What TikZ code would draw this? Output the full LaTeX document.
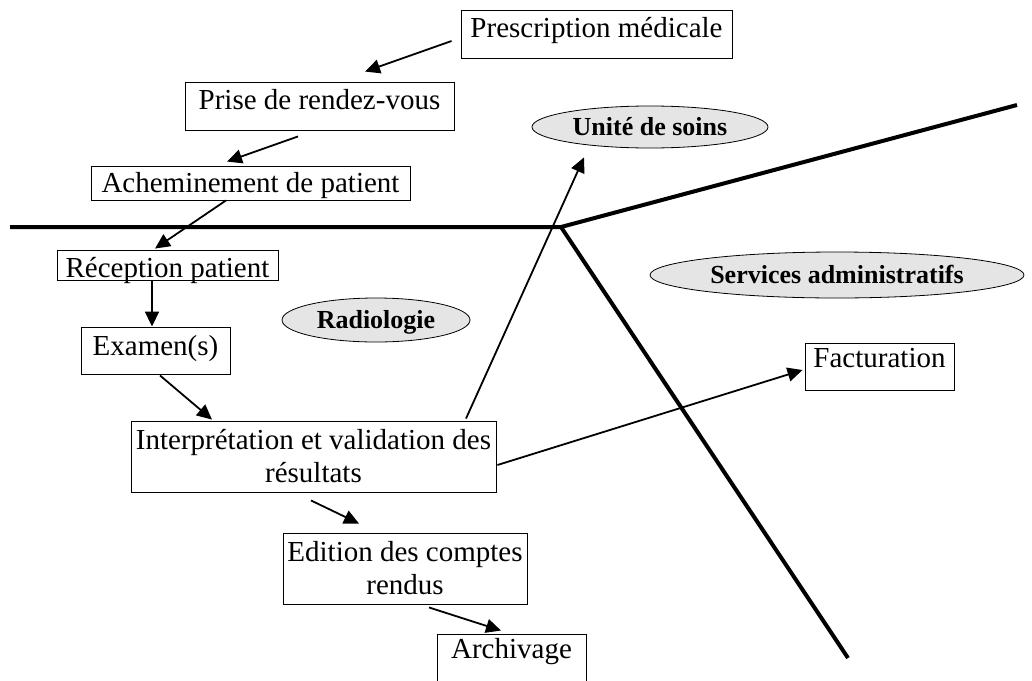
\documentclass[tikz,border=0pt]{standalone}
\usepackage{fontspec}
\setmainfont{Liberation Serif}
\usetikzlibrary{arrows.meta,shapes.geometric,calc}
\begin{document}
\begin{tikzpicture}[x=1pt,y=-1pt,
  box/.style={draw,line width=0.9pt,rectangle,inner sep=0pt,align=center,
    font=\fontsize{29}{33}\selectfont},
  zone/.style={draw,line width=0.8pt,ellipse,fill=black!10,inner sep=0pt,
    font=\fontsize{26}{30}\selectfont\bfseries,text height=17pt,text depth=1pt},
  flow/.style={line width=1.8pt,-{Triangle[length=15pt,width=14pt]}},
  border/.style={line width=4pt}]
\useasboundingbox (0,0) rectangle (1032,680);
\clip (0,0) rectangle (1032,680);

% zone boundaries
\coordinate (j) at (561,227);
\coordinate (bl) at (10,227);
\coordinate (bu) at (1017,105);
\coordinate (bd) at (848,658);
\draw[border] (bl) -- (j) -- (bu);
\draw[border] (j) -- (bd);

% zone labels
\node[zone,minimum width=188pt,minimum height=44pt] (radio) at (376,320) {Radiologie};
\node[zone,minimum width=236pt,minimum height=42pt] (unite) at (650,127) {Unité de soins};
\node[zone,minimum width=374pt,minimum height=46pt] (admin) at (837,275) {Services administratifs};

% process steps
\node[box,minimum width=271pt,text height=27pt,text depth=21pt] (presc) at (596.5,34) {Prescription médicale};
\node[box,minimum width=269pt,text height=27pt,text depth=21pt] (prise) at (319.5,106) {Prise de rendez-vous};
\node[box,minimum width=319pt,text height=26pt,text depth=8pt] (achem) at (250.5,183) {Acheminement de patient};
\node[box,minimum width=221pt,text height=27pt,text depth=3pt] (recep) at (167.5,265) {Réception patient};
\node[box,minimum width=149pt,text height=28pt,text depth=19pt] (exam) at (155.5,350.5) {Examen(s)};
\node[box,minimum width=365pt,minimum height=71pt] (interp) at (313.5,456.5) {Interprétation et validation des\\résultats};
\node[box,minimum width=244pt,minimum height=71pt] (edit) at (405,568.5) {Edition des comptes\\rendus};
\node[box,minimum width=149pt,text height=24pt,text depth=32pt] (archi) at (511.5,662) {Archivage};
\node[box,minimum width=149pt,text height=24pt,text depth=23pt] (fact) at (879.5,366.5) {Facturation};

% flow arrows
\draw[flow] ($(presc.west)+(-9,7)$) -- ($(prise.north)+(45.5,-10)$);
\draw[flow] ($(prise.south)+(-21.5,6)$) -- ($(achem.north)+(-23.5,-4)$);
\draw[flow] ($(achem.south)+(-24.5,0)$) -- ($(recep.north)+(-12.5,-1)$);
\draw[flow] ($(recep.south)+(-15.5,0)$) -- ($(exam.north)+(-3.5,0)$);
\draw[flow] ($(exam.south)+(4.5,1)$) -- ($(interp.north)+(-101.5,-1)$);
\draw[flow] ($(interp.north)+(152.5,-2)$) -- ($(unite.south)+(-66,9)$);
\draw[flow] ($(interp.east)+(1,8.5)$) -- ($(fact.west)+(-2,3.5)$);
\draw[flow] ($(interp.south)+(-2.5,8)$) -- ($(edit.north)+(-46,-9)$);
\draw[flow] ($(edit.south)+(24,3)$) -- ($(archi.north)+(-10.5,-3)$);
\end{tikzpicture}
\end{document}
